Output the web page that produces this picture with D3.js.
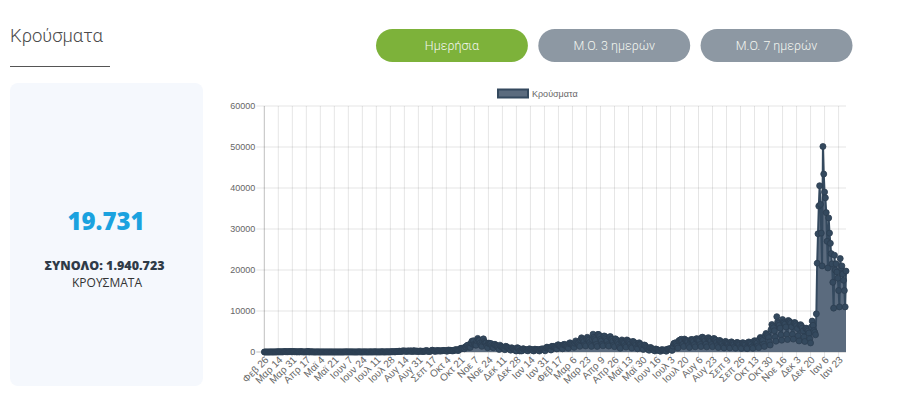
<!DOCTYPE html>
<html>
<head>
<meta charset="utf-8">
<script src="https://cdn.jsdelivr.net/npm/d3@7"></script>
<style>
  html, body { margin: 0; padding: 0; background: #fff; }
  #page { width: 900px; height: 408px; }
  svg { display: block; }
</style>
</head>
<body>
<div id="page"></div>
<script>
// daily cases, weeks run Wed..Tue starting Wed 26 Feb 2020
const CASES_2020 = [
  1, 2, 1, 0, 3, 0, 1,
  2, 22, 14, 7, 7, 16, 17,
  10, 18, 73, 38, 57, 21, 56,
  31, 24, 46, 84, 94, 71, 71,
  48, 78, 71, 95, 102, 56, 74,
  98, 62, 56, 81, 36, 20, 62,
  41, 25, 104, 47, 67, 19, 17,
  29, 37, 15, 38, 156, 13, 16,
  77, 28, 32, 20, 16, 4, 15,
  10, 21, 21, 22, 10, 9, 5,
  15, 15, 10, 13, 10, 4, 6,
  14, 13, 7, 21, 10, 2, 10,
  9, 3, 9, 5, 7, 3, 12,
  5, 5, 2, 8, 1, 9, 16,
  27, 17, 37, 9, 28, 17, 16,
  22, 30, 21, 14, 8, 4, 5,
  9, 17, 16, 49, 22, 2, 11,
  22, 19, 15, 29, 30, 9, 14,
  12, 8, 17, 33, 9, 18, 23,
  20, 38, 32, 24, 13, 9, 17,
  24, 12, 39, 31, 36, 10, 18,
  23, 33, 27, 42, 25, 21, 57,
  43, 75, 50, 78, 57, 37, 110,
  121, 124, 153, 203, 151, 126, 196,
  262, 254, 230, 217, 203, 150, 269,
  232, 225, 189, 284, 167, 115, 293,
  293, 163, 237, 193, 203, 146, 169,
  234, 216, 160, 162, 147, 153, 273,
  226, 372, 210, 170, 163, 138, 229,
  338, 453, 307, 252, 194, 193, 375,
  229, 338, 303, 214, 289, 264, 306,
  345, 368, 327, 314, 274, 194, 454,
  456, 389, 403, 319, 303, 272, 373,
  508, 459, 597, 484, 352, 418, 667,
  865, 882, 935, 841, 934, 791, 1259,
  1211, 1547, 1690, 1150, 1263, 1118, 2166,
  2646, 1915, 2752, 1914, 1736, 1653, 2752,
  3316, 2917, 2835, 2198, 1695, 1383, 2581,
  3209, 2567, 2311, 2199, 1498, 1044, 2152,
  2131, 1947, 2077, 1590, 1193, 1044, 1808,
  1886, 1595, 1491, 1395, 1058, 624, 1672,
  1381, 1294, 1135, 1007, 806, 552, 1382,
  1308, 1152, 993, 887, 642, 444, 1044,
  919, 826, 608, 501, 317, 262, 1047,
  963, 802
]
const CASES_2021 = [
  262, 420, 264, 314, 793,
  742, 601, 573, 516, 369, 278, 677,
  775, 602, 611, 545, 341, 250, 664,
  660, 546, 620, 539, 367, 237, 642,
  710, 669, 767, 640, 448, 290, 968,
  1190, 1007, 1004, 855, 680, 483, 1384,
  1348, 1366, 1205, 1125, 969, 751, 1724,
  1749, 1526, 1538, 1278, 1068, 776, 1770,
  1876, 1670, 1712, 1395, 1215, 910, 2047,
  2247, 2049, 1897, 1715, 1463, 1131, 2138,
  2702, 2302, 2090, 2051, 1681, 1388, 2950,
  3465, 3120, 2953, 2583, 1764, 1464, 3215,
  3586, 3215, 2895, 2347, 1769, 1369, 3087,
  4340, 3586, 3212, 2815, 1873, 1354, 4309,
  4237, 3802, 3104, 2695, 1882, 1510, 3860,
  3891, 3451, 3089, 2697, 1775, 1449, 3651,
  3757, 3199, 3078, 2641, 1653, 1300, 3221,
  3066, 2719, 2400, 1868, 1204, 897, 2698,
  2952, 2629, 2387, 2168, 1522, 1195, 2945,
  2794, 2595, 2354, 1929, 1232, 964, 2535,
  2533, 2296, 2064, 1746, 1087, 781, 2047,
  2249, 1951, 1779, 1360, 845, 630, 1702,
  1661, 1350, 1093, 914, 618, 417, 1034,
  1095, 880, 741, 577, 397, 256, 744,
  655, 564, 462, 383, 274, 177, 554,
  539, 461, 468, 473, 299, 195, 641,
  743, 720, 770, 825, 524, 394, 1437,
  2065, 2140, 2245, 1889, 1435, 964, 2693,
  2867, 2953, 3109, 2614, 1870, 1321, 3156,
  2930, 2754, 2720, 2508, 1623, 1097, 2766,
  3052, 2960, 2972, 2594, 1796, 1264, 3194,
  3248, 3012, 3120, 2816, 1833, 1325, 3560,
  3614, 3261, 3229, 2763, 1896, 1251, 3324,
  3506, 3212, 3035, 2715, 1824, 1302, 3213,
  3290, 2994, 2870, 2409, 1607, 1097, 2765,
  2798, 2528, 2304, 2018, 1403, 986, 2477,
  2587, 2337, 2187, 1917, 1301, 981, 2304,
  2475, 2203, 2117, 1851, 1269, 919, 2246,
  2331, 2213, 2012, 1779, 1167, 863, 2184,
  2274, 2045, 2000, 1731, 1079, 809, 2265,
  2461, 2240, 2184, 1883, 1248, 885, 2553,
  2774, 2599, 2450, 2195, 1475, 1065, 3118,
  3553, 3389, 3174, 2803, 1914, 1351, 4020,
  4528, 4242, 3957, 3522, 2445, 1697, 5449,
  6700, 6335, 5916, 5180, 3645, 2642, 8613,
  7335, 6958, 6545, 5819, 4184, 2878, 7909,
  7317, 7090, 6808, 6101, 4297, 3043, 7692,
  7497, 7335, 7020, 6163, 4313, 3142, 7109,
  7165, 6875, 6424, 5728, 3958, 2702, 6554,
  6665, 6308, 5831, 5142, 3675, 2563, 5762,
  5809, 5489, 5130, 4630, 3243, 2212, 6089,
  7542, 6500, 5200, 4800, 4200, 9300, 21657,
  28828, 35580, 40560
]
const CASES_2022 = [
  36000, 29000, 21000, 50126,
  43400, 39000, 37600, 34000, 27000, 20500, 32700,
  29000, 26500, 24000, 21500, 17000, 10700, 23600,
  20000, 21500, 19500, 18000, 15000, 11000, 22800,
  20500, 21000, 19000, 17500, 15000, 11000, 19731
]

// every 17th day gets a label (index 0, 17, 34, ...)
const TICK_LABELS = [
  'Φεβ 26', 'Μαρ 14', 'Μαρ 31', 'Απρ 17', 'Μαϊ 4', 'Μαϊ 21', 'Ιουν 7', 'Ιουν 24',
  'Ιουλ 11', 'Ιουλ 28', 'Αυγ 14', 'Αυγ 31', 'Σεπ 17', 'Οκτ 4', 'Οκτ 21', 'Νοε 7',
  'Νοε 24', 'Δεκ 11', 'Δεκ 28', 'Ιαν 14', 'Ιαν 31', 'Φεβ 17', 'Μαρ 6', 'Μαρ 23',
  'Απρ 9', 'Απρ 26', 'Μαϊ 13', 'Μαϊ 30', 'Ιουν 16', 'Ιουλ 3', 'Ιουλ 20', 'Αυγ 6',
  'Αυγ 23', 'Σεπ 9', 'Σεπ 26', 'Οκτ 13', 'Οκτ 30', 'Νοε 16', 'Δεκ 3', 'Δεκ 20',
  'Ιαν 6', 'Ιαν 23'
]
const TICK_STEP = 17
const Y_TICKS = [0, 10000, 20000, 30000, 40000, 50000, 60000]
const BUTTONS = ['Ημερήσια', 'Μ.Ο. 3 ημερών', 'Μ.Ο. 7 ημερών']
const TODAY = '19.731'
const TOTAL = 'ΣΥΝΟΛΟ: 1.940.723'

const cases = CASES_2020.concat(CASES_2021, CASES_2022)

const W = 900, H = 408
const PLOT = { left: 264.3, right: 846, top: 106, bottom: 352 }
const LINE_COLOR = '#34495e'
const FILL_COLOR = '#5b6b7e'
const CHART_FONT = '"Liberation Sans", Arial, Helvetica, sans-serif'
const UI_FONT = 'Roboto, "Noto Sans", sans-serif'

const svg = d3.select('#page').append('svg')
  .attr('width', W).attr('height', H)
  .attr('viewBox', `0 0 ${W} ${H}`)

// ---- header ----
svg.append('text')
  .attr('x', 10).attr('y', 41.5)
  .attr('font-family', UI_FONT).attr('font-weight', 300)
  .attr('font-size', 18.5).attr('fill', '#4a4a4a')
  .text('Κρούσματα')
svg.append('line')
  .attr('x1', 10).attr('x2', 110).attr('y1', 66.5).attr('y2', 66.5)
  .attr('stroke', '#555').attr('stroke-width', 1)

const btnX = d3.scaleBand().domain(BUTTONS).range([376, 852.5]).paddingInner(0.064)
const btn = svg.append('g').selectAll('g').data(BUTTONS).join('g')
  .attr('transform', d => `translate(${btnX(d)},29)`)
btn.append('rect')
  .attr('width', btnX.bandwidth()).attr('height', 33)
  .attr('rx', 16.5)
  .attr('fill', (d, i) => i === 0 ? '#7db23a' : '#8d98a3')
btn.append('text')
  .attr('x', btnX.bandwidth() / 2).attr('y', 21)
  .attr('text-anchor', 'middle')
  .attr('font-family', UI_FONT).attr('font-weight', 300)
  .attr('font-size', 12.5).attr('fill', '#f3f6f0')
  .text(d => d)

// ---- summary card ----
svg.append('rect')
  .attr('x', 10).attr('y', 83).attr('width', 193).attr('height', 303)
  .attr('rx', 8).attr('fill', '#f5f8fd')
svg.append('text')
  .attr('x', 106).attr('y', 230).attr('text-anchor', 'middle')
  .attr('font-family', '"Open Sans", "Noto Sans", sans-serif').attr('font-weight', 800)
  .attr('font-size', 24).attr('fill', '#1ba2df')
  .text(TODAY)
svg.append('text')
  .attr('x', 104.5).attr('y', 269.5).attr('text-anchor', 'middle')
  .attr('font-family', '"Open Sans", "Noto Sans", sans-serif').attr('font-weight', 800)
  .attr('font-size', 12.5).attr('fill', '#2f3b48')
  .text(TOTAL)
svg.append('text')
  .attr('x', 107).attr('y', 287).attr('text-anchor', 'middle')
  .attr('font-family', '"Open Sans", "Noto Sans", sans-serif')
  .attr('font-size', 12).attr('fill', '#333')
  .text('ΚΡΟΥΣΜΑΤΑ')

// ---- chart ----
const x = d3.scaleLinear().domain([0, cases.length - 1]).range([PLOT.left, PLOT.right])
const y = d3.scaleLinear().domain([0, 60000]).range([PLOT.bottom, PLOT.top])
const tickIdx = TICK_LABELS.map((_, i) => i * TICK_STEP)

const grid = svg.append('g')
grid.selectAll('line.h').data(Y_TICKS).join('line')
  .attr('class', 'h')
  .attr('x1', PLOT.left - 8).attr('x2', PLOT.right)
  .attr('y1', d => y(d)).attr('y2', d => y(d))
  .attr('stroke', d => d === 0 ? 'rgba(0,0,0,0.25)' : 'rgba(0,0,0,0.1)')
grid.selectAll('line.v').data(tickIdx).join('line')
  .attr('class', 'v')
  .attr('x1', d => x(d)).attr('x2', d => x(d))
  .attr('y1', PLOT.top).attr('y2', PLOT.bottom + 5)
  .attr('stroke', (d, i) => i === 0 ? 'rgba(0,0,0,0.25)' : 'rgba(0,0,0,0.1)')

const yAxis = d3.axisLeft(y).tickValues(Y_TICKS).tickSize(0).tickPadding(9)
  .tickFormat(d3.format('d'))
svg.append('g')
  .attr('transform', `translate(${PLOT.left},0)`)
  .call(yAxis)
  .call(g => g.select('.domain').remove())
  .call(g => g.selectAll('text')
    .attr('font-family', CHART_FONT).attr('font-size', 9).attr('fill', '#666'))

const xAxis = d3.axisBottom(x).tickValues(tickIdx).tickSize(0)
  .tickFormat((d, i) => TICK_LABELS[i])
svg.append('g')
  .attr('transform', `translate(0,${PLOT.bottom})`)
  .call(xAxis)
  .call(g => g.select('.domain').remove())
  .call(g => g.selectAll('text')
    .attr('font-family', CHART_FONT).attr('font-size', 10).attr('fill', '#666')
    .attr('text-anchor', 'end')
    .attr('x', 0).attr('y', 0).attr('dy', '0.35em')
    .attr('transform', 'translate(2,6) rotate(-45)'))

const area = d3.area()
  .x((d, i) => x(i))
  .y0(y(0))
  .y1(d => y(d))
const line = d3.line()
  .x((d, i) => x(i))
  .y(d => y(d))

const plot = svg.append('g')
plot.append('path').datum(cases)
  .attr('d', area).attr('fill', FILL_COLOR)
plot.append('path').datum(cases)
  .attr('d', line).attr('fill', 'none')
  .attr('stroke', LINE_COLOR).attr('stroke-width', 2)
  .attr('stroke-linejoin', 'round')
plot.selectAll('circle').data(cases).join('circle')
  .attr('cx', (d, i) => x(i)).attr('cy', d => y(d))
  .attr('r', 3)
  .attr('fill', LINE_COLOR)
  .attr('stroke', '#2c3e50').attr('stroke-width', 0.8)

// legend
const legend = svg.append('g').attr('transform', 'translate(498,89.5)')
legend.append('rect')
  .attr('width', 30).attr('height', 8)
  .attr('fill', FILL_COLOR).attr('stroke', LINE_COLOR).attr('stroke-width', 2)
legend.append('text')
  .attr('x', 34).attr('y', 4).attr('dy', '0.35em')
  .attr('font-family', CHART_FONT).attr('font-size', 9).attr('fill', '#666')
  .text('Κρούσματα')
</script>
</body>
</html>
